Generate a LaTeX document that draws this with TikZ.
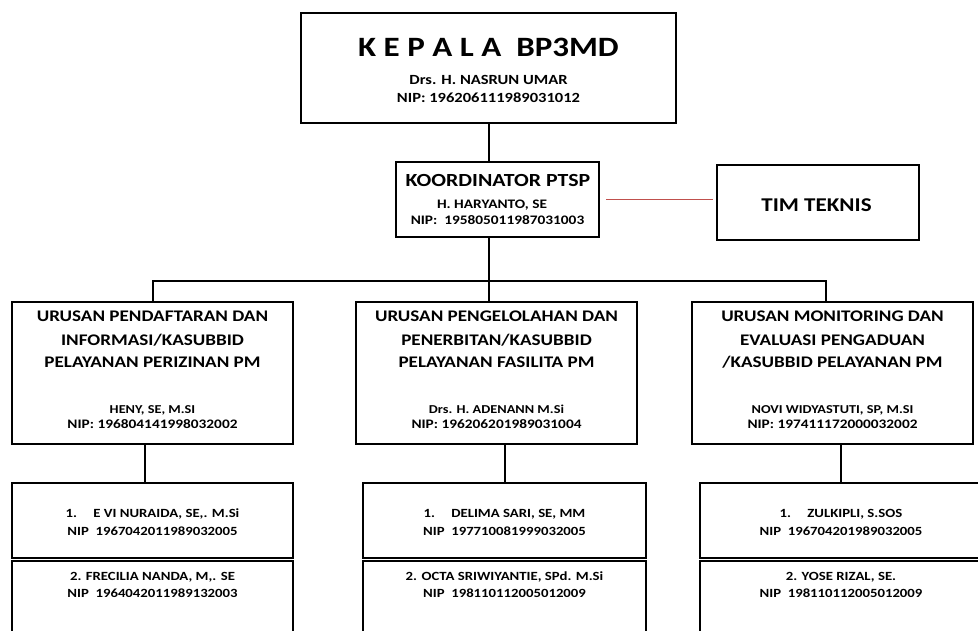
\documentclass[tikz,border=0pt]{standalone}
\usepackage{fontspec}
\setmainfont{Carlito}[FakeStretch=1.18]
\newcommand{\fsz}[1]{\fontsize{#1}{#1}\selectfont\bfseries}
\definecolor{linkred}{RGB}{192,80,77}
\tikzset{
  box/.style={draw=black, line width=2pt, inner sep=0pt, fill=white},
  conn/.style={draw=black, line width=2pt},
  redlink/.style={draw=linkred, line width=1.4pt},
  txt/.style={inner sep=0pt, anchor=base, text=black},
}
\begin{document}
\begin{tikzpicture}[x=1pt,y=-1pt]
\clip (0,0) rectangle (978,630);
\fill[white] (0,0) rectangle (978,630);
% boxes
\node[box, minimum width=375pt, minimum height=110pt] (kepala) at (488.5,68) {};
\node[box, minimum width=203pt, minimum height=75pt] (koord) at (497.5,199.5) {};
\node[box, minimum width=202pt, minimum height=75pt] (tim) at (818,202.5) {};
\node[box, minimum width=281pt, minimum height=142pt] (u1) at (152.5,373) {};
\node[box, minimum width=281pt, minimum height=142pt] (u2) at (496.5,373) {};
\node[box, minimum width=281pt, minimum height=142pt] (u3) at (832.5,373) {};
\node[box, minimum width=281pt, minimum height=75pt] (s1a) at (152.5,520.5) {};
\node[box, minimum width=283pt, minimum height=75pt] (s2a) at (504.5,520.5) {};
\node[box, minimum width=282pt, minimum height=75pt] (s3a) at (841,520.5) {};
\node[box, minimum width=281pt, minimum height=90pt] (s1b) at (152.5,606) {};
\node[box, minimum width=283pt, minimum height=90pt] (s2b) at (504.5,606) {};
\node[box, minimum width=282pt, minimum height=90pt] (s3b) at (841,606) {};
% connectors
\coordinate (busmid) at (488.5,281);
\coordinate (b1) at (153,281);
\coordinate (b3) at (826,281);
\coordinate (c1) at (145,460);
\draw[conn] (kepala.south) -- (kepala.south |- koord.north);
\draw[conn] (kepala.south |- koord.south) -- (busmid |- u2.north);
\draw[conn] (b1 |- u1.north) -- (b1) -- (b3) -- (b3 |- u3.north);
\draw[conn] (c1 |- u1.south) -- (c1 |- s1a.north);
\draw[conn] (s2a.north |- u2.south) -- (s2a.north);
\draw[conn] (s3a.north |- u3.south) -- (s3a.north);
\draw[redlink, shorten <=6pt, shorten >=3pt] (koord.east) -- (koord.east -| tim.west);
% texts
\node[txt, font=\fsz{28}] (t1) at (488.5,56.7) {K E P A L A\ \ BP3MD};
\node[txt, font=\fsz{14}] (t2) at (488.5,84) {Drs. H. NASRUN UMAR};
\node[txt, font=\fsz{14}] (t3) at (488.5,102) {NIP: 196206111989031012};
\node[txt, font=\fsz{18.5}] (k1) at (498,186.7) {KOORDINATOR PTSP};
\node[txt, font=\fsz{13}] (k2) at (492,208.3) {H. HARYANTO, SE};
\node[txt, font=\fsz{13}] (k3) at (497.5,224) {NIP:\ \ 195805011987031003};
\node[txt, font=\fsz{19.5}] (tt) at (816.5,211) {TIM TEKNIS};
% urusan 1
\node[txt, font=\fsz{16.2}] (a1) at (152.5,321.7) {URUSAN PENDAFTARAN DAN};
\node[txt, font=\fsz{16.2}] (a2) at (152.5,345) {INFORMASI/KASUBBID};
\node[txt, font=\fsz{16.2}] (a3) at (152.5,367.3) {PELAYANAN PERIZINAN PM};
\node[txt, font=\fsz{12.1}] (a4) at (152.5,413.3) {HENY, SE, M.SI};
\node[txt, font=\fsz{13}] (a5) at (152.5,428.5) {NIP: 196804141998032002};
% urusan 2
\node[txt, font=\fsz{16.2}] (m1) at (496.5,321.7) {URUSAN PENGELOLAHAN DAN};
\node[txt, font=\fsz{16.2}] (m2) at (496.5,345) {PENERBITAN/KASUBBID};
\node[txt, font=\fsz{16.2}] (m3) at (496.5,367.3) {PELAYANAN FASILITA PM};
\node[txt, font=\fsz{12.1}] (m4) at (496.5,413.3) {Drs. H. ADENANN M.Si};
\node[txt, font=\fsz{13}] (m5) at (496.5,428.5) {NIP: 196206201989031004};
% urusan 3
\node[txt, font=\fsz{16.2}] (r1) at (832.5,321.7) {URUSAN MONITORING DAN};
\node[txt, font=\fsz{16.2}] (r2) at (832.5,345) {EVALUASI PENGADUAN};
\node[txt, font=\fsz{16.2}] (r3) at (832.5,367.3) {/KASUBBID PELAYANAN PM};
\node[txt, font=\fsz{12.1}] (r4) at (832.5,413.3) {NOVI WIDYASTUTI, SP, M.SI};
\node[txt, font=\fsz{13}] (r5) at (832.5,428.5) {NIP: 197411172000032002};
% sub boxes
\node[txt, font=\fsz{12.5}] (p1) at (152.5,517.7) {1.\hspace{1.3em}E VI NURAIDA, SE,. M.Si};
\node[txt, font=\fsz{12.5}] (p2) at (152.5,535) {NIP\ \ 1967042011989032005};
\node[txt, font=\fsz{12.5}] (p3) at (152.5,580) {2. FRECILIA NANDA, M,. SE};
\node[txt, font=\fsz{12.5}] (p4) at (152.5,597) {NIP\ \ 1964042011989132003};
\node[txt, font=\fsz{12.5}] (q1) at (504.5,517.7) {1.\hspace{1.3em}DELIMA SARI, SE, MM};
\node[txt, font=\fsz{12.5}] (q2) at (504.5,535) {NIP\ \ 197710081999032005};
\node[txt, font=\fsz{12.5}] (q3) at (504.5,580) {2. OCTA SRIWIYANTIE, SPd. M.Si};
\node[txt, font=\fsz{12.5}] (q4) at (504.5,597) {NIP\ \ 198110112005012009};
\node[txt, font=\fsz{12.5}] (w1) at (841,517.7) {1.\hspace{1.3em}ZULKIPLI, S.SOS};
\node[txt, font=\fsz{12.5}] (w2) at (841,535) {NIP\ \ 196704201989032005};
\node[txt, font=\fsz{12.5}] (w3) at (841,580) {2. YOSE RIZAL, SE.};
\node[txt, font=\fsz{12.5}] (w4) at (841,597) {NIP\ \ 198110112005012009};
\end{tikzpicture}
\end{document}
